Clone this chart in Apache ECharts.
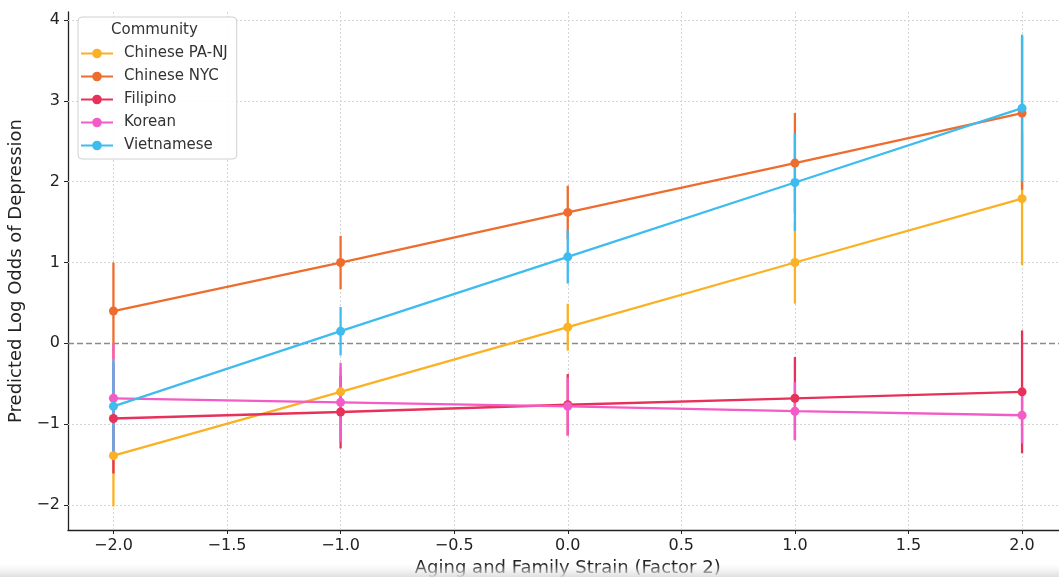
<!DOCTYPE html>
<html><head><meta charset="utf-8">
<script src="https://cdn.jsdelivr.net/npm/echarts@6/dist/echarts.min.js"></script>
<style>html,body{margin:0;padding:0;background:#fff}#c{width:1059px;height:577px}</style>
</head><body><div id="c"></div>
<script>
const xValues = [-2, -1, 0, 1, 2];
const communities = ['Chinese PA-NJ', 'Chinese NYC', 'Filipino', 'Korean', 'Vietnamese'];
const chinesePANJ = [-1.39, -0.60, 0.20, 1.00, 1.79];
const chinesePANJErr = [0.63, 0.30, 0.29, 0.51, 0.82];
const chineseNYC = [0.40, 1.00, 1.62, 2.23, 2.85];
const chineseNYCErr = [0.60, 0.33, 0.33, 0.62, 0.95];
const filipino = [-0.93, -0.85, -0.76, -0.68, -0.60];
const filipinoErr = [0.68, 0.45, 0.38, 0.51, 0.76];
const korean = [-0.68, -0.73, -0.78, -0.84, -0.89];
const koreanErr = [0.68, 0.49, 0.36, 0.36, 0.35];
const vietnamese = [-0.78, 0.15, 1.07, 1.99, 2.91];
const vietnameseErr = [0.57, 0.30, 0.33, 0.60, 0.91];
const xTicks = [-2.0, -1.5, -1.0, -0.5, 0.0, 0.5, 1.0, 1.5, 2.0];
const yTicks = [-2, -1, 0, 1, 2, 3, 4];

const values = [chinesePANJ, chineseNYC, filipino, korean, vietnamese];
const errs = [chinesePANJErr, chineseNYCErr, filipinoErr, koreanErr, vietnameseErr];
const colors = ['#FBB124', '#EE6D2E', '#E6325B', '#F35CC6', '#3EBCEF'];
const FONT = 'DejaVu Sans';
const minus = s => String(s).replace('-', '\u2212');

const series = [];
series.push({
  type: 'line', name: 'grid', data: [], silent: true, z: 1,
  markLine: {
    silent: true, symbol: 'none', label: {show: false}, animation: false, z: 1,
    lineStyle: {color: '#d4d4d4', type: [2, 2], width: 1},
    data: xTicks.map(v => ({xAxis: v})).concat(yTicks.filter(v => v !== 0).map(v => ({yAxis: v})))
  }
});
series.push({
  type: 'line', name: 'zero', data: [], silent: true, z: 1,
  markLine: {
    silent: true, symbol: 'none', label: {show: false}, animation: false, z: 1,
    lineStyle: {color: '#8a8a8a', type: [6, 3], width: 1.3},
    data: [{yAxis: 0}]
  }
});
communities.forEach((name, i) => {
  series.push({
    type: 'custom', name: 'err ' + name, z: 2, silent: true,
    data: xValues.map((x, k) => [x, values[i][k] - errs[i][k], values[i][k] + errs[i][k]]),
    encode: {x: 0, y: [1, 2]},
    renderItem: (params, api) => {
      const p1 = api.coord([api.value(0), api.value(1)]);
      const p2 = api.coord([api.value(0), api.value(2)]);
      return {type: 'line', shape: {x1: p1[0], y1: p1[1], x2: p2[0], y2: p2[1]},
        style: {stroke: colors[i], lineWidth: 2.3}};
    }
  });
});
communities.forEach((name, i) => {
  series.push({
    type: 'line', name: name, z: 3,
    data: xValues.map((x, k) => [x, values[i][k]]),
    symbol: 'circle', symbolSize: 9, showSymbol: true,
    lineStyle: {color: colors[i], width: 2.3},
    itemStyle: {color: colors[i]},
    emphasis: {disabled: true}
  });
});

const chart = echarts.init(document.getElementById('c'), null, {renderer: 'canvas'});
chart.setOption({
  animation: false,
  backgroundColor: '#fff',
  textStyle: {fontFamily: FONT},
  grid: {left: 68, top: 12, height: 518, width: 999.5, outerBoundsMode: 'none', containLabel: false},
  xAxis: {
    type: 'value', min: -2.2, max: 2.2,
    name: 'Aging and Family Strain (Factor 2)', nameLocation: 'middle', nameGap: 27,
    nameTextStyle: {fontFamily: FONT, fontSize: 18, color: '#222'},
    axisLine: {show: true, onZero: false, lineStyle: {color: '#222', width: 1.3}},
    axisTick: {show: true, customValues: xTicks, length: 4, lineStyle: {color: '#222'}},
    axisLabel: {customValues: xTicks, formatter: v => minus(Number(v).toFixed(1)), fontFamily: FONT, fontSize: 16, color: '#222', margin: 8},
    splitLine: {show: false}
  },
  yAxis: {
    type: 'value', min: -2.31, max: 4.10,
    name: 'Predicted Log Odds of Depression', nameLocation: 'middle', nameGap: 41,
    nameTextStyle: {fontFamily: FONT, fontSize: 18, color: '#222'},
    axisLine: {show: true, onZero: false, lineStyle: {color: '#222', width: 1.3}},
    axisTick: {show: true, customValues: yTicks, length: 4, lineStyle: {color: '#222'}},
    axisLabel: {customValues: yTicks, formatter: v => minus(v), fontFamily: FONT, fontSize: 16, color: '#222', margin: 8},
    splitLine: {show: false}
  },
  legend: {
    data: communities, orient: 'vertical', left: 78, top: 17,
    padding: [29, 9, 6, 2], itemGap: 8, itemWidth: 32, itemHeight: 12,
    backgroundColor: 'rgba(255,255,255,0.9)', borderColor: '#d0d0d0', borderWidth: 1, borderRadius: 4,
    textStyle: {fontFamily: FONT, fontSize: 15, color: '#333', padding: [0, 0, 0, 6]},
    selectedMode: false
  },
  graphic: [
    {type: 'text', left: 111, top: 23, z: 100, style: {text: 'Community', font: '15px "DejaVu Sans"', fill: '#333'}},
    {type: 'rect', left: 0, top: 564, z: 100, silent: true, shape: {width: 1059, height: 13},
      style: {fill: new echarts.graphic.LinearGradient(0, 0, 0, 1, [{offset: 0, color: 'rgba(235,235,235,0)'}, {offset: 1, color: 'rgba(222,222,222,0.95)'}])}}
  ],
  series: series
});
</script></body></html>
